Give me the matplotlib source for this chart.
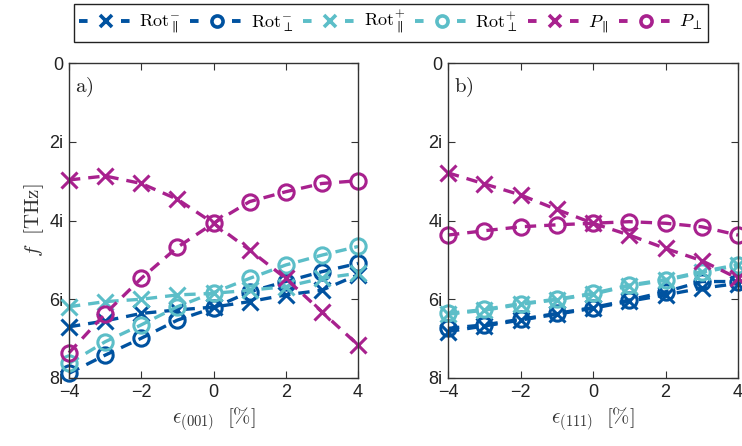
import numpy as np
import matplotlib
matplotlib.use("Agg")
import matplotlib.pyplot as plt
from matplotlib.ticker import FixedLocator

plt.rcParams["mathtext.fontset"] = "cm"
plt.rcParams["font.family"] = ["Liberation Sans", "DejaVu Sans"]

# strain values (%)
strain = [-4, -3, -2, -1, 0, 1, 2, 3, 4]

# (001) strain: imaginary frequencies (THz)
a_rot_m_par = [6.70, 6.55, 6.36, 6.27, 6.20, 6.06, 5.89, 5.77, 5.38]
a_rot_m_perp = [7.88, 7.42, 6.99, 6.53, 6.22, 5.81, 5.55, 5.30, 5.09]
a_rot_p_par = [6.19, 6.06, 6.00, 5.89, 5.85, 5.77, 5.68, 5.47, 5.34]
a_rot_p_perp = [7.63, 7.08, 6.65, 6.19, 5.83, 5.47, 5.13, 4.88, 4.66]
a_p_par = [2.97, 2.87, 3.06, 3.46, 4.07, 4.75, 5.47, 6.32, 7.16]
a_p_perp = [7.36, 6.37, 5.47, 4.68, 4.07, 3.52, 3.27, 3.06, 2.99]

# (111) strain: imaginary frequencies (THz)
b_rot_m_par = [6.82, 6.68, 6.53, 6.38, 6.23, 6.05, 5.89, 5.72, 5.60]
b_rot_m_perp = [6.74, 6.65, 6.51, 6.36, 6.21, 6.02, 5.81, 5.55, 5.55]
b_rot_p_par = [6.38, 6.28, 6.13, 6.01, 5.87, 5.66, 5.52, 5.32, 5.14]
b_rot_p_perp = [6.36, 6.26, 6.11, 6.00, 5.85, 5.64, 5.50, 5.30, 5.12]
b_p_par = [2.79, 3.07, 3.35, 3.72, 4.07, 4.37, 4.71, 5.02, 5.47]
b_p_perp = [4.37, 4.26, 4.16, 4.11, 4.07, 4.03, 4.07, 4.16, 4.37]

y_ticks = [0, 2, 4, 6, 8]
y_tick_labels = ["0", "2i", "4i", "6i", "8i"]
x_ticks = [-4, -2, 0, 2, 4]

c_dark = "#0052a0"
c_cyan = "#5cbec8"
c_mag = "#a8218e"

labels = [r"$\mathrm{Rot}_{\parallel}^{-}$", r"$\mathrm{Rot}_{\perp}^{-}$",
          r"$\mathrm{Rot}_{\parallel}^{+}$", r"$\mathrm{Rot}_{\perp}^{+}$",
          r"$P_{\parallel}$", r"$P_{\perp}$"]
styles = [(c_dark, "x"), (c_dark, "o"), (c_cyan, "x"), (c_cyan, "o"),
          (c_mag, "x"), (c_mag, "o")]

fig = plt.figure(figsize=(7.42, 4.46), dpi=100)
ax_a = fig.add_axes([69 / 742, 68 / 446, 289 / 742, 315 / 446])
ax_b = fig.add_axes([448 / 742, 68 / 446, 290 / 742, 315 / 446])

series_a = [a_rot_m_par, a_rot_m_perp, a_rot_p_par, a_rot_p_perp, a_p_par, a_p_perp]
series_b = [b_rot_m_par, b_rot_m_perp, b_rot_p_par, b_rot_p_perp, b_p_par, b_p_perp]

for ax, series in ((ax_a, series_a), (ax_b, series_b)):
    for vals, (col, mk), lab in zip(series, styles, labels):
        ax.plot(strain, vals, linestyle=(0, (3.4, 2.4)), lw=2.4, color=col,
                marker=mk, markersize=11, markeredgewidth=2.2,
                markerfacecolor="none", label=lab, clip_on=False)
    ax.set_xlim(-4, 4)
    ax.set_ylim(8, 0)
    ax.xaxis.set_major_locator(FixedLocator(x_ticks))
    ax.set_yticks(y_ticks)
    ax.set_yticklabels(y_tick_labels)
    ax.tick_params(direction="in", top=True, right=True, labelsize=13,
                   length=5, width=0.8, color="#333333", labelcolor="#222222",
                   pad=4)
    for sp in ax.spines.values():
        sp.set_linewidth(1.0)
        sp.set_color("#333333")

ax_a.set_xlabel(r"$\epsilon_{(001)}\ \ [\%]$", fontsize=15, color="#333333",
                labelpad=4)
ax_b.set_xlabel(r"$\epsilon_{(111)}\ \ [\%]$", fontsize=15, color="#333333",
                labelpad=4)
ax_a.set_ylabel(r"$f\ \ [\mathrm{THz}]$", fontsize=15, color="#333333",
                labelpad=2)

ax_a.text(0.02, 0.96, r"$\mathrm{a)}$", transform=ax_a.transAxes, fontsize=15,
          va="top", ha="left", color="#222222")
ax_b.text(0.02, 0.96, r"$\mathrm{b)}$", transform=ax_b.transAxes, fontsize=15,
          va="top", ha="left", color="#222222")

# legend handles: short dash, marker, short dash
leg_handles = []
for col, mk in styles:
    h, = ax_a.plot([], [], linestyle=(0, (2.2, 8.6)), lw=2.8, color=col,
                   marker=mk, markersize=8, markeredgewidth=2.6,
                   markerfacecolor="none")
    leg_handles.append(h)

leg = fig.legend(leg_handles, labels, loc="upper center",
                 bbox_to_anchor=(391 / 742, 0.992), ncol=6, frameon=True,
                 fancybox=False, edgecolor="#222222", framealpha=1,
                 fontsize=13, handlelength=3.0, handletextpad=0.35,
                 columnspacing=0.55, borderpad=0.3, borderaxespad=0)
leg.get_frame().set_linewidth(1.0)

fig.savefig("out.png", dpi=100)
